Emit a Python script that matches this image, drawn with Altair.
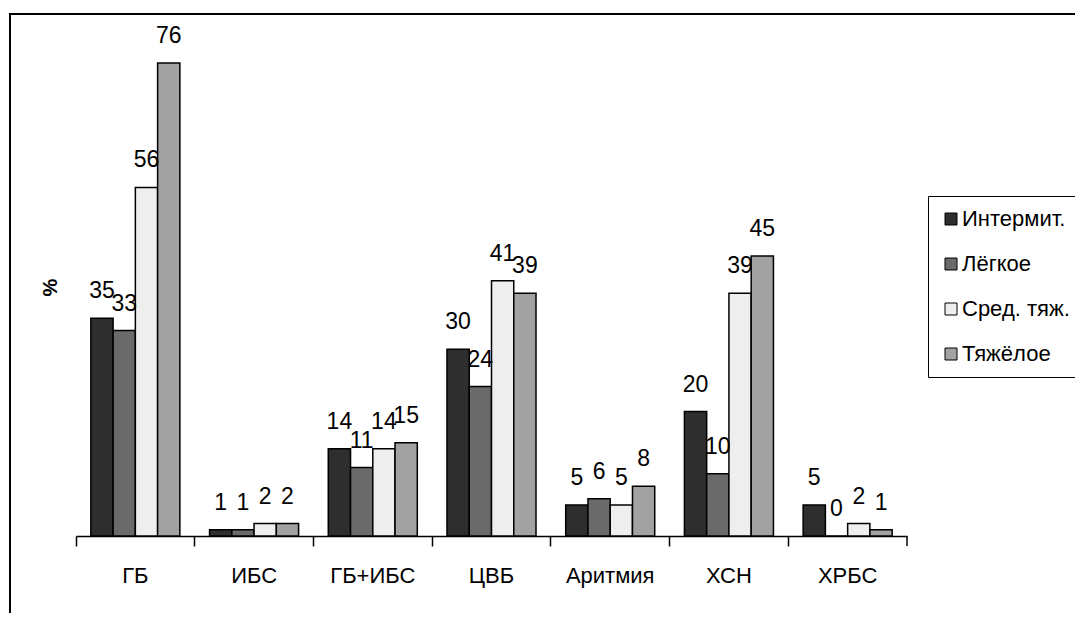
import altair as alt
import pandas as pd

categories = ["ГБ", "ИБС", "ГБ+ИБС", "ЦВБ", "Аритмия", "ХСН", "ХРБС"]
series = ["Интермит.", "Лёгкое", "Сред. тяж.", "Тяжёлое"]
intermit = [35, 1, 14, 30, 5, 20, 5]
legkoe = [33, 1, 11, 24, 6, 10, 0]
sred = [56, 2, 14, 41, 5, 39, 2]
tyazh = [76, 2, 15, 39, 8, 45, 1]
colors = ["#2e2e2e", "#6a6a6a", "#eeeeee", "#a2a2a2"]

rows = []
for s, vals in zip(series, [intermit, legkoe, sred, tyazh]):
    for c, v in zip(categories, vals):
        rows.append({"cat": c, "series": s, "value": v})
df = pd.DataFrame(rows)

FONT = "Liberation Sans, Arial"
W, H = 831, 498

base = alt.Chart(df).encode(
    x=alt.X(
        "cat:N",
        sort=categories,
        title=None,
        scale=alt.Scale(paddingInner=0, paddingOuter=0),
        axis=alt.Axis(
            bandPosition=0,
            labelAngle=0,
            labelFontSize=22,
            labelFont=FONT,
            labelColor="black",
            labelPadding=19,
            tickSize=10,
            tickColor="black",
            tickWidth=1.5,
            domainColor="black",
            domainWidth=1.5,
            grid=False,
        ),
    ),
    xOffset=alt.XOffset(
        "series:N", sort=series, scale=alt.Scale(paddingOuter=0.667, paddingInner=0)
    ),
    y=alt.Y(
        "value:Q",
        scale=alt.Scale(domain=[0, 80]),
        axis=alt.Axis(
            title="%",
            labels=False,
            ticks=False,
            domain=False,
            grid=False,
            titleFontSize=20,
            titleFontWeight="bold",
            titleFont=FONT,
            titleColor="black",
            titlePadding=16,
        ),
    ),
)

bars = base.mark_bar(stroke="black", strokeWidth=1.5).encode(
    color=alt.Color(
        "series:N",
        sort=series,
        scale=alt.Scale(domain=series, range=colors),
        legend=alt.Legend(
            title=None,
            orient="none",
            legendX=852,
            legendY=158,
            labelFontSize=22,
            labelFont=FONT,
            labelColor="black",
            labelOffset=0,
            symbolType="square",
            symbolSize=144,
            symbolStrokeColor="black",
            symbolStrokeWidth=1,
            strokeColor="black",
            fillColor="white",
            padding=12,
            rowPadding=23,
            labelLimit=300,
        ),
    )
)

labels = base.mark_text(
    fontSize=23, font=FONT, baseline="alphabetic", dy=-20, color="black"
).encode(text="value:Q")

dummy = pd.DataFrame({"a": [0]})
end_tick = alt.Chart(dummy).mark_rule(color="black", strokeWidth=1.5).encode(
    x=alt.value(W), y=alt.value(H), y2=alt.value(H + 10)
)
frame = alt.Chart(dummy).mark_rect(filled=False, stroke="black", strokeWidth=2).encode(
    x=alt.value(-66), x2=alt.value(1100), y=alt.value(-24), y2=alt.value(700)
)

chart = (
    alt.layer(frame, bars, labels, end_tick)
    .properties(
        width=W,
        height=H,
        padding={"left": 68, "top": 30, "right": 1067 - 68 - W, "bottom": 605 - 30 - H},
        autosize=alt.AutoSizeParams(type="none"),
        background="white",
    )
    .configure_view(strokeWidth=0)
)

chart.save("out.html", embed_options={"renderer": "svg", "actions": False})
